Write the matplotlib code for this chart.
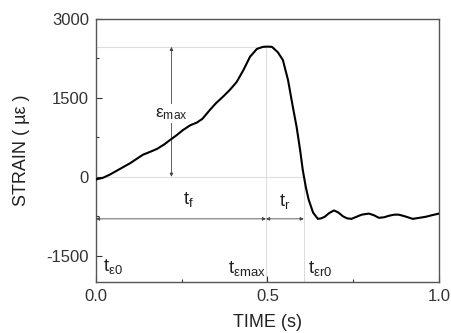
import matplotlib
matplotlib.use("Agg")
import matplotlib.pyplot as plt

plt.rcParams['font.family'] = ['Liberation Sans', 'DejaVu Sans']
plt.rcParams['mathtext.fontset'] = 'custom'
plt.rcParams['mathtext.rm'] = 'Liberation Sans'
plt.rcParams['mathtext.it'] = 'Liberation Sans'
plt.rcParams['mathtext.bf'] = 'Liberation Sans:bold'
plt.rcParams['axes.unicode_minus'] = False

time = [0.0, 0.02, 0.04, 0.07, 0.1, 0.137, 0.16, 0.178, 0.2, 0.216, 0.235, 0.254,
        0.275, 0.294, 0.31, 0.332, 0.35, 0.37, 0.39, 0.41, 0.43, 0.449, 0.469,
        0.487, 0.5, 0.513, 0.53, 0.545, 0.56, 0.574, 0.585, 0.595, 0.603, 0.612,
        0.62, 0.633, 0.647, 0.657, 0.667, 0.68, 0.694, 0.707, 0.72, 0.732, 0.745,
        0.76, 0.775, 0.796, 0.81, 0.825, 0.84, 0.855, 0.87, 0.883, 0.9, 0.924,
        0.943, 0.962, 0.98, 1.0]
strain = [-50, -20, 40, 150, 260, 420, 480, 530, 620, 700, 790, 890,
          980, 1030, 1100, 1270, 1400, 1520, 1650, 1800, 2030, 2280, 2430,
          2470, 2475, 2470, 2370, 2220, 1840, 1330, 950, 520, 130, -200,
          -430, -680, -800, -790, -760, -690, -640, -680, -750, -790, -800,
          -760, -720, -700, -730, -780, -770, -740, -720, -720, -750, -800,
          -780, -760, -730, -700]

t_emax = 0.496
t_er0 = 0.606
eps_max = 2470
arrow_y = -800
eps_x = 0.22

fig = plt.figure(figsize=(4.52, 3.33), dpi=100)
ax = fig.add_axes([0.2124, 0.1532, 0.7586, 0.7898])

ax.plot(time, strain, color='black', lw=1.5, zorder=5)

ax.set_xlim(0, 1.0)
ax.set_ylim(-2000, 3000)
ax.set_xticks([0.0, 0.5, 1.0])
ax.set_xticklabels(['0.0', '0.5', '1.0'])
ax.set_xticks([0.25, 0.75], minor=True)
ax.set_yticks([-1500, 0, 1500, 3000])
ax.set_yticks([-750, 750, 2250], minor=True)
ax.tick_params(direction='in', length=4, width=0.8, labelsize=12, colors='#333333', pad=5)
ax.tick_params(which='minor', direction='in', length=2.5, width=0.8, colors='#333333')
for s in ax.spines.values():
    s.set_color('#555555')
    s.set_linewidth(1.0)

ax.set_xlabel('TIME (s)', fontsize=13, color='#222222', labelpad=7)
ax.set_ylabel('STRAIN ( µε )', fontsize=13, color='#222222', labelpad=12)

guide = dict(color='#dddddd', lw=0.8, ls='-', zorder=1)
ax.plot([0, 0.52], [eps_max, eps_max], **guide)
ax.plot([0, t_er0], [0, 0], **guide)
ax.plot([t_emax, t_emax], [-2000, eps_max], **guide)
ax.plot([t_er0, t_er0], [-2000, 0], **guide)

ap = dict(arrowstyle='<|-|>', color='#444444', lw=0.6, mutation_scale=5, shrinkA=0, shrinkB=0)
ax.annotate('', xy=(0.0, arrow_y), xytext=(t_emax, arrow_y), arrowprops=ap)
ax.annotate('', xy=(t_emax, arrow_y), xytext=(t_er0, arrow_y), arrowprops=ap)
ax.annotate('', xy=(eps_x, 0), xytext=(eps_x, eps_max), arrowprops=ap)

ax.text(eps_x, 1200, 'ε$_{\\mathrm{max}}$', ha='center', va='center', fontsize=12.5,
        color='#222222', bbox=dict(fc='white', ec='none', pad=1), zorder=3)
ax.text(0.27, -430, 't$_{\\mathrm{f}}$', ha='center', va='center', fontsize=13.5, color='#222222')
ax.text(0.55, -470, 't$_{\\mathrm{r}}$', ha='center', va='center', fontsize=13.5, color='#222222')
ax.text(0.02, -1700, 't$_{\\mathrm{ε0}}$', ha='left', va='center', fontsize=13.5, color='#222222')
ax.text(0.495, -1750, 't$_{\\mathrm{εmax}}$', ha='right', va='center', fontsize=13.5, color='#222222')
ax.text(0.618, -1750, 't$_{\\mathrm{εr0}}$', ha='left', va='center', fontsize=13.5, color='#222222')

fig.savefig('out.png', dpi=100)
